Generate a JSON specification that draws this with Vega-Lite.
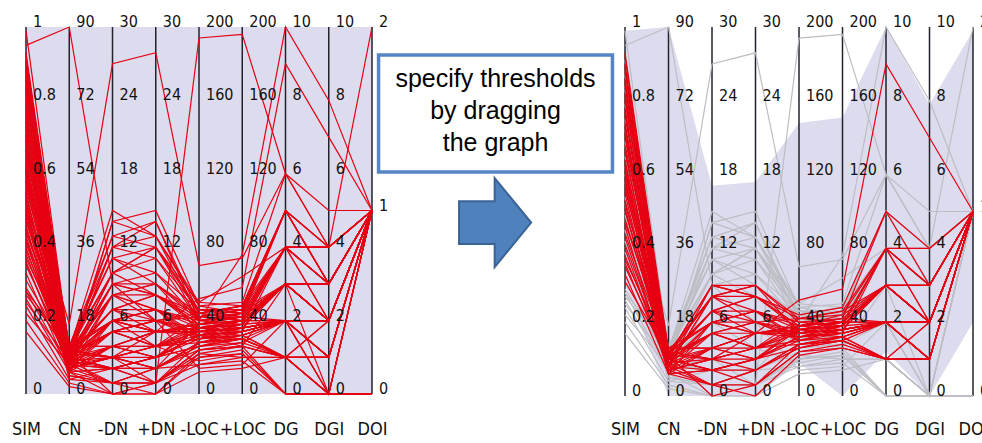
{
"$schema":"https://vega.github.io/schema/vega-lite/v6.json",
"background":"white",
"padding":{"left":11,"top":14,"right":0,"bottom":0},
"config":{"view":{"stroke":null}},
"bounds":"flush",
"spacing":20,
"datasets":{
"full":[{"axis":"SIM","lo":0,"hi":1},{"axis":"CN","lo":0,"hi":1},{"axis":"-DN","lo":0,"hi":1},{"axis":"+DN","lo":0,"hi":1},{"axis":"-LOC","lo":0,"hi":1},{"axis":"+LOC","lo":0,"hi":1},{"axis":"DG","lo":0,"hi":1},{"axis":"DGI","lo":0,"hi":1},{"axis":"DOI","lo":0,"hi":1}],
"thr":[{"axis":"SIM","lo":0.3,"hi":0.99},{"axis":"CN","lo":0,"hi":1},{"axis":"-DN","lo":0,"hi":0.57},{"axis":"+DN","lo":0,"hi":0.58},{"axis":"-LOC","lo":0.09,"hi":0.74},{"axis":"+LOC","lo":0,"hi":0.755},{"axis":"DG","lo":0.12,"hi":1},{"axis":"DGI","lo":0,"hi":0.79},{"axis":"DOI","lo":0.2,"hi":0.99}],
"axes":[{"axis":"SIM"},{"axis":"CN"},{"axis":"-DN"},{"axis":"+DN"},{"axis":"-LOC"},{"axis":"+LOC"},{"axis":"DG"},{"axis":"DGI"},{"axis":"DOI"}],
"ticks":[
{"axis":"SIM","v":0,"t":"0"},{"axis":"SIM","v":0.2,"t":"0.2"},{"axis":"SIM","v":0.4,"t":"0.4"},{"axis":"SIM","v":0.6,"t":"0.6"},{"axis":"SIM","v":0.8,"t":"0.8"},{"axis":"SIM","v":1,"t":"1"},
{"axis":"CN","v":0,"t":"0"},{"axis":"CN","v":0.2,"t":"18"},{"axis":"CN","v":0.4,"t":"36"},{"axis":"CN","v":0.6,"t":"54"},{"axis":"CN","v":0.8,"t":"72"},{"axis":"CN","v":1,"t":"90"},
{"axis":"-DN","v":0,"t":"0"},{"axis":"-DN","v":0.2,"t":"6"},{"axis":"-DN","v":0.4,"t":"12"},{"axis":"-DN","v":0.6,"t":"18"},{"axis":"-DN","v":0.8,"t":"24"},{"axis":"-DN","v":1,"t":"30"},
{"axis":"+DN","v":0,"t":"0"},{"axis":"+DN","v":0.2,"t":"6"},{"axis":"+DN","v":0.4,"t":"12"},{"axis":"+DN","v":0.6,"t":"18"},{"axis":"+DN","v":0.8,"t":"24"},{"axis":"+DN","v":1,"t":"30"},
{"axis":"-LOC","v":0,"t":"0"},{"axis":"-LOC","v":0.2,"t":"40"},{"axis":"-LOC","v":0.4,"t":"80"},{"axis":"-LOC","v":0.6,"t":"120"},{"axis":"-LOC","v":0.8,"t":"160"},{"axis":"-LOC","v":1,"t":"200"},
{"axis":"+LOC","v":0,"t":"0"},{"axis":"+LOC","v":0.2,"t":"40"},{"axis":"+LOC","v":0.4,"t":"80"},{"axis":"+LOC","v":0.6,"t":"120"},{"axis":"+LOC","v":0.8,"t":"160"},{"axis":"+LOC","v":1,"t":"200"},
{"axis":"DG","v":0,"t":"0"},{"axis":"DG","v":0.2,"t":"2"},{"axis":"DG","v":0.4,"t":"4"},{"axis":"DG","v":0.6,"t":"6"},{"axis":"DG","v":0.8,"t":"8"},{"axis":"DG","v":1,"t":"10"},
{"axis":"DGI","v":0,"t":"0"},{"axis":"DGI","v":0.2,"t":"2"},{"axis":"DGI","v":0.4,"t":"4"},{"axis":"DGI","v":0.6,"t":"6"},{"axis":"DGI","v":0.8,"t":"8"},{"axis":"DGI","v":1,"t":"10"},
{"axis":"DOI","v":0,"t":"0"},{"axis":"DOI","v":0.5,"t":"1"},{"axis":"DOI","v":1,"t":"2"}],
"lines":[
{"id":1,"SIM":0.93,"CN":0.12,"-DN":0.20,"+DN":0.23,"-LOC":0.18,"+LOC":0.20,"DG":0.3,"DGI":0.2,"DOI":0.5,"s":1},
{"id":2,"SIM":0.92,"CN":0.10,"-DN":0.07,"+DN":0.10,"-LOC":0.16,"+LOC":0.18,"DG":0.2,"DGI":0.2,"DOI":0.5,"s":1},
{"id":3,"SIM":0.91,"CN":0.13,"-DN":0.40,"+DN":0.43,"-LOC":0.21,"+LOC":0.23,"DG":0.5,"DGI":0.3,"DOI":0.5,"s":0},
{"id":4,"SIM":0.90,"CN":0.09,"-DN":0.13,"+DN":0.17,"-LOC":0.19,"+LOC":0.21,"DG":0.2,"DGI":0.1,"DOI":0.5,"s":1},
{"id":5,"SIM":0.89,"CN":0.11,"-DN":0.27,"+DN":0.30,"-LOC":0.17,"+LOC":0.19,"DG":0.4,"DGI":0.3,"DOI":0.5,"s":1},
{"id":6,"SIM":0.88,"CN":0.08,"-DN":0.03,"+DN":0.07,"-LOC":0.14,"+LOC":0.16,"DG":0.1,"DGI":0.1,"DOI":0.5,"s":1},
{"id":7,"SIM":0.87,"CN":0.12,"-DN":0.33,"+DN":0.37,"-LOC":0.20,"+LOC":0.22,"DG":0.4,"DGI":0.4,"DOI":0.5,"s":0},
{"id":8,"SIM":0.86,"CN":0.10,"-DN":0.17,"+DN":0.20,"-LOC":0.18,"+LOC":0.17,"DG":0.2,"DGI":0.2,"DOI":0.5,"s":1},
{"id":9,"SIM":0.85,"CN":0.07,"-DN":0.10,"+DN":0.13,"-LOC":0.15,"+LOC":0.18,"DG":0.3,"DGI":0.2,"DOI":0.5,"s":1},
{"id":10,"SIM":0.84,"CN":0.11,"-DN":0.23,"+DN":0.27,"-LOC":0.22,"+LOC":0.24,"DG":0.5,"DGI":0.4,"DOI":0.5,"s":1},
{"id":11,"SIM":0.83,"CN":0.09,"-DN":0.47,"+DN":0.50,"-LOC":0.24,"+LOC":0.25,"DG":0.6,"DGI":0.4,"DOI":0.5,"s":0},
{"id":12,"SIM":0.82,"CN":0.13,"-DN":0.13,"+DN":0.10,"-LOC":0.16,"+LOC":0.19,"DG":0.2,"DGI":0.1,"DOI":0.5,"s":1},
{"id":13,"SIM":0.81,"CN":0.08,"-DN":0.20,"+DN":0.17,"-LOC":0.19,"+LOC":0.20,"DG":0.3,"DGI":0.3,"DOI":0.5,"s":1},
{"id":14,"SIM":0.80,"CN":0.10,"-DN":0.07,"+DN":0.07,"-LOC":0.13,"+LOC":0.15,"DG":0.1,"DGI":0.2,"DOI":0.5,"s":1},
{"id":15,"SIM":0.79,"CN":0.12,"-DN":0.37,"+DN":0.33,"-LOC":0.23,"+LOC":0.21,"DG":0.4,"DGI":0.3,"DOI":0.5,"s":0},
{"id":16,"SIM":0.78,"CN":0.06,"-DN":0.13,"+DN":0.17,"-LOC":0.17,"+LOC":0.18,"DG":0.2,"DGI":0.2,"DOI":0.5,"s":1},
{"id":17,"SIM":0.77,"CN":0.11,"-DN":0.27,"+DN":0.23,"-LOC":0.20,"+LOC":0.19,"DG":0.3,"DGI":0.2,"DOI":0.5,"s":1},
{"id":18,"SIM":0.76,"CN":0.09,"-DN":0.03,"+DN":0.03,"-LOC":0.12,"+LOC":0.14,"DG":0.1,"DGI":0.1,"DOI":0.5,"s":1},
{"id":19,"SIM":0.75,"CN":0.13,"-DN":0.43,"+DN":0.47,"-LOC":0.22,"+LOC":0.24,"DG":0.5,"DGI":0.3,"DOI":0.5,"s":0},
{"id":20,"SIM":0.74,"CN":0.07,"-DN":0.17,"+DN":0.13,"-LOC":0.18,"+LOC":0.20,"DG":0.2,"DGI":0.2,"DOI":0.5,"s":1},
{"id":21,"SIM":0.73,"CN":0.10,"-DN":0.23,"+DN":0.20,"-LOC":0.16,"+LOC":0.17,"DG":0.4,"DGI":0.3,"DOI":0.5,"s":1},
{"id":22,"SIM":0.72,"CN":0.12,"-DN":0.10,"+DN":0.13,"-LOC":0.21,"+LOC":0.23,"DG":0.3,"DGI":0.2,"DOI":0.5,"s":1},
{"id":23,"SIM":0.71,"CN":0.08,"-DN":0.30,"+DN":0.27,"-LOC":0.19,"+LOC":0.22,"DG":0.4,"DGI":0.4,"DOI":0.5,"s":1},
{"id":24,"SIM":0.70,"CN":0.11,"-DN":0.00,"+DN":0.03,"-LOC":0.14,"+LOC":0.15,"DG":0.1,"DGI":0.1,"DOI":0.5,"s":1},
{"id":25,"SIM":0.69,"CN":0.09,"-DN":0.33,"+DN":0.40,"-LOC":0.20,"+LOC":0.21,"DG":0.3,"DGI":0.3,"DOI":0.5,"s":0},
{"id":26,"SIM":0.68,"CN":0.13,"-DN":0.13,"+DN":0.13,"-LOC":0.17,"+LOC":0.16,"DG":0.2,"DGI":0.2,"DOI":0.5,"s":1},
{"id":27,"SIM":0.67,"CN":0.06,"-DN":0.20,"+DN":0.23,"-LOC":0.15,"+LOC":0.18,"DG":0.3,"DGI":0.2,"DOI":0.5,"s":1},
{"id":28,"SIM":0.66,"CN":0.10,"-DN":0.07,"+DN":0.10,"-LOC":0.19,"+LOC":0.20,"DG":0.2,"DGI":0.1,"DOI":0.5,"s":1},
{"id":29,"SIM":0.65,"CN":0.12,"-DN":0.50,"+DN":0.43,"-LOC":0.25,"+LOC":0.24,"DG":0.5,"DGI":0.4,"DOI":0.5,"s":0},
{"id":30,"SIM":0.64,"CN":0.08,"-DN":0.27,"+DN":0.27,"-LOC":0.18,"+LOC":0.19,"DG":0.4,"DGI":0.3,"DOI":0.5,"s":1},
{"id":31,"SIM":0.63,"CN":0.11,"-DN":0.17,"+DN":0.20,"-LOC":0.21,"+LOC":0.22,"DG":0.3,"DGI":0.2,"DOI":0.5,"s":1},
{"id":32,"SIM":0.62,"CN":0.07,"-DN":0.03,"+DN":0.07,"-LOC":0.13,"+LOC":0.16,"DG":0.1,"DGI":0.2,"DOI":0.5,"s":1},
{"id":33,"SIM":0.61,"CN":0.10,"-DN":0.23,"+DN":0.17,"-LOC":0.17,"+LOC":0.18,"DG":0.2,"DGI":0.2,"DOI":0.5,"s":1},
{"id":34,"SIM":0.60,"CN":0.13,"-DN":0.37,"+DN":0.40,"-LOC":0.22,"+LOC":0.20,"DG":0.4,"DGI":0.3,"DOI":0.5,"s":0},
{"id":35,"SIM":0.59,"CN":0.09,"-DN":0.10,"+DN":0.10,"-LOC":0.16,"+LOC":0.17,"DG":0.2,"DGI":0.1,"DOI":0.5,"s":1},
{"id":36,"SIM":0.58,"CN":0.11,"-DN":0.30,"+DN":0.30,"-LOC":0.20,"+LOC":0.21,"DG":0.5,"DGI":0.3,"DOI":0.5,"s":1},
{"id":37,"SIM":0.57,"CN":0.08,"-DN":0.13,"+DN":0.17,"-LOC":0.18,"+LOC":0.19,"DG":0.3,"DGI":0.2,"DOI":0.5,"s":1},
{"id":38,"SIM":0.56,"CN":0.12,"-DN":0.20,"+DN":0.20,"-LOC":0.15,"+LOC":0.17,"DG":0.2,"DGI":0.2,"DOI":0.5,"s":1},
{"id":39,"SIM":0.55,"CN":0.06,"-DN":0.07,"+DN":0.03,"-LOC":0.12,"+LOC":0.13,"DG":0.1,"DGI":0.1,"DOI":0.5,"s":1},
{"id":40,"SIM":0.54,"CN":0.10,"-DN":0.40,"+DN":0.37,"-LOC":0.23,"+LOC":0.22,"DG":0.5,"DGI":0.4,"DOI":0.5,"s":0},
{"id":41,"SIM":0.53,"CN":0.09,"-DN":0.17,"+DN":0.13,"-LOC":0.19,"+LOC":0.18,"DG":0.2,"DGI":0.2,"DOI":0.5,"s":1},
{"id":42,"SIM":0.52,"CN":0.12,"-DN":0.27,"+DN":0.20,"-LOC":0.17,"+LOC":0.20,"DG":0.3,"DGI":0.3,"DOI":0.5,"s":1},
{"id":43,"SIM":0.51,"CN":0.07,"-DN":0.10,"+DN":0.13,"-LOC":0.14,"+LOC":0.16,"DG":0.2,"DGI":0.1,"DOI":0.5,"s":1},
{"id":44,"SIM":0.50,"CN":0.11,"-DN":0.23,"+DN":0.27,"-LOC":0.21,"+LOC":0.23,"DG":0.4,"DGI":0.2,"DOI":0.5,"s":1},
{"id":45,"SIM":0.49,"CN":0.08,"-DN":0.47,"+DN":0.43,"-LOC":0.24,"+LOC":0.22,"DG":0.5,"DGI":0.3,"DOI":0.5,"s":0},
{"id":46,"SIM":0.48,"CN":0.10,"-DN":0.13,"+DN":0.10,"-LOC":0.18,"+LOC":0.17,"DG":0.2,"DGI":0.2,"DOI":0.5,"s":1},
{"id":47,"SIM":0.47,"CN":0.13,"-DN":0.20,"+DN":0.23,"-LOC":0.16,"+LOC":0.19,"DG":0.3,"DGI":0.2,"DOI":0.5,"s":1},
{"id":48,"SIM":0.46,"CN":0.06,"-DN":0.03,"+DN":0.00,"-LOC":0.11,"+LOC":0.13,"DG":0.1,"DGI":0.1,"DOI":0.5,"s":1},
{"id":49,"SIM":0.45,"CN":0.09,"-DN":0.30,"+DN":0.33,"-LOC":0.20,"+LOC":0.21,"DG":0.4,"DGI":0.3,"DOI":0.5,"s":0},
{"id":50,"SIM":0.44,"CN":0.11,"-DN":0.17,"+DN":0.17,"-LOC":0.17,"+LOC":0.18,"DG":0.2,"DGI":0.2,"DOI":0.5,"s":1},
{"id":51,"SIM":0.43,"CN":0.08,"-DN":0.07,"+DN":0.10,"-LOC":0.15,"+LOC":0.16,"DG":0.2,"DGI":0.1,"DOI":0.5,"s":1},
{"id":52,"SIM":0.42,"CN":0.12,"-DN":0.37,"+DN":0.30,"-LOC":0.22,"+LOC":0.24,"DG":0.4,"DGI":0.4,"DOI":0.5,"s":0},
{"id":53,"SIM":0.41,"CN":0.10,"-DN":0.23,"+DN":0.23,"-LOC":0.19,"+LOC":0.20,"DG":0.3,"DGI":0.2,"DOI":0.5,"s":1},
{"id":54,"SIM":0.40,"CN":0.07,"-DN":0.13,"+DN":0.17,"-LOC":0.16,"+LOC":0.17,"DG":0.2,"DGI":0.2,"DOI":0.5,"s":1},
{"id":55,"SIM":0.39,"CN":0.11,"-DN":0.43,"+DN":0.40,"-LOC":0.23,"+LOC":0.23,"DG":0.5,"DGI":0.3,"DOI":0.5,"s":0},
{"id":56,"SIM":0.38,"CN":0.09,"-DN":0.20,"+DN":0.17,"-LOC":0.18,"+LOC":0.19,"DG":0.3,"DGI":0.3,"DOI":0.5,"s":1},
{"id":57,"SIM":0.37,"CN":0.12,"-DN":0.10,"+DN":0.07,"-LOC":0.14,"+LOC":0.15,"DG":0.1,"DGI":0.1,"DOI":0.5,"s":1},
{"id":58,"SIM":0.36,"CN":0.08,"-DN":0.27,"+DN":0.30,"-LOC":0.21,"+LOC":0.20,"DG":0.4,"DGI":0.2,"DOI":0.5,"s":1},
{"id":59,"SIM":0.35,"CN":0.10,"-DN":0.17,"+DN":0.13,"-LOC":0.17,"+LOC":0.18,"DG":0.2,"DGI":0.2,"DOI":0.5,"s":1},
{"id":60,"SIM":0.33,"CN":0.06,"-DN":0.07,"+DN":0.10,"-LOC":0.13,"+LOC":0.15,"DG":0.2,"DGI":0.1,"DOI":0.5,"s":1},
{"id":61,"SIM":0.31,"CN":0.11,"-DN":0.30,"+DN":0.27,"-LOC":0.19,"+LOC":0.21,"DG":0.3,"DGI":0.3,"DOI":0.5,"s":1},
{"id":62,"SIM":0.60,"CN":0.11,"-DN":0.10,"+DN":0.17,"-LOC":0.26,"+LOC":0.29,"DG":0.9,"DGI":0.7,"DOI":0.5,"s":1},
{"id":63,"SIM":0.95,"CN":1.00,"-DN":0.30,"+DN":0.20,"-LOC":0.22,"+LOC":0.21,"DG":0.3,"DGI":0.2,"DOI":0.5,"s":0},
{"id":64,"SIM":0.60,"CN":0.19,"-DN":0.90,"+DN":0.93,"-LOC":0.35,"+LOC":0.37,"DG":0.6,"DGI":0.4,"DOI":0.5,"s":0},
{"id":65,"SIM":0.50,"CN":0.08,"-DN":0.10,"+DN":0.03,"-LOC":0.97,"+LOC":0.98,"DG":0.6,"DGI":0.5,"DOI":0.5,"s":0},
{"id":66,"SIM":0.72,"CN":0.10,"-DN":0.40,"+DN":0.47,"-LOC":0.20,"+LOC":0.38,"DG":1.0,"DGI":0.8,"DOI":0.5,"s":0},
{"id":67,"SIM":0.45,"CN":0.09,"-DN":0.33,"+DN":0.40,"-LOC":0.25,"+LOC":0.32,"DG":0.4,"DGI":0.4,"DOI":1.0,"s":0},
{"id":68,"SIM":0.99,"CN":0.12,"-DN":0.20,"+DN":0.17,"-LOC":0.18,"+LOC":0.20,"DG":0.3,"DGI":0.2,"DOI":0.5,"s":0},
{"id":69,"SIM":0.29,"CN":0.10,"-DN":0.20,"+DN":0.17,"-LOC":0.17,"+LOC":0.18,"DG":0.2,"DGI":0.2,"DOI":0.5,"s":0},
{"id":70,"SIM":0.28,"CN":0.07,"-DN":0.13,"+DN":0.13,"-LOC":0.15,"+LOC":0.16,"DG":0.2,"DGI":0.1,"DOI":0.5,"s":0},
{"id":71,"SIM":0.27,"CN":0.12,"-DN":0.10,"+DN":0.07,"-LOC":0.19,"+LOC":0.20,"DG":0.3,"DGI":0.2,"DOI":0.5,"s":0},
{"id":72,"SIM":0.26,"CN":0.06,"-DN":0.27,"+DN":0.23,"-LOC":0.14,"+LOC":0.17,"DG":0.2,"DGI":0.0,"DOI":0.0,"s":0},
{"id":73,"SIM":0.25,"CN":0.09,"-DN":0.07,"+DN":0.10,"-LOC":0.16,"+LOC":0.15,"DG":0.1,"DGI":0.0,"DOI":0.0,"s":0},
{"id":74,"SIM":0.24,"CN":0.04,"-DN":0.03,"+DN":0.03,"-LOC":0.12,"+LOC":0.13,"DG":0.0,"DGI":0.0,"DOI":0.0,"s":0},
{"id":75,"SIM":0.22,"CN":0.08,"-DN":0.17,"+DN":0.20,"-LOC":0.18,"+LOC":0.19,"DG":0.2,"DGI":0.2,"DOI":0.5,"s":0},
{"id":76,"SIM":0.20,"CN":0.03,"-DN":0.00,"+DN":0.00,"-LOC":0.10,"+LOC":0.11,"DG":0.0,"DGI":0.0,"DOI":0.0,"s":0},
{"id":77,"SIM":0.17,"CN":0.02,"-DN":0.00,"+DN":0.03,"-LOC":0.08,"+LOC":0.10,"DG":0.1,"DGI":0.0,"DOI":0.0,"s":0},
{"id":78,"SIM":0.28,"CN":0.13,"-DN":0.33,"+DN":0.27,"-LOC":0.20,"+LOC":0.22,"DG":0.3,"DGI":0.3,"DOI":0.5,"s":0},
{"id":79,"SIM":0.88,"CN":0.07,"-DN":0.10,"+DN":0.07,"-LOC":0.14,"+LOC":0.15,"DG":0.1,"DGI":0.0,"DOI":0.5,"s":0},
{"id":80,"SIM":0.74,"CN":0.05,"-DN":0.03,"+DN":0.03,"-LOC":0.10,"+LOC":0.12,"DG":0.0,"DGI":0.0,"DOI":0.0,"s":0},
{"id":81,"SIM":0.62,"CN":0.09,"-DN":0.13,"+DN":0.10,"-LOC":0.13,"+LOC":0.14,"DG":0.2,"DGI":0.0,"DOI":0.5,"s":0},
{"id":82,"SIM":0.52,"CN":0.04,"-DN":0.07,"+DN":0.07,"-LOC":0.08,"+LOC":0.09,"DG":0.0,"DGI":0.0,"DOI":0.5,"s":0},
{"id":83,"SIM":0.42,"CN":0.06,"-DN":0.00,"+DN":0.00,"-LOC":0.06,"+LOC":0.07,"DG":0.1,"DGI":0.0,"DOI":0.0,"s":0},
{"id":84,"SIM":0.84,"CN":0.10,"-DN":0.20,"+DN":0.13,"-LOC":0.16,"+LOC":0.13,"DG":0.3,"DGI":0.0,"DOI":0.5,"s":0},
{"id":85,"SIM":0.68,"CN":0.08,"-DN":0.07,"+DN":0.03,"-LOC":0.11,"+LOC":0.10,"DG":0.1,"DGI":0.0,"DOI":0.0,"s":0},
{"id":86,"SIM":0.58,"CN":0.11,"-DN":0.17,"+DN":0.20,"-LOC":0.07,"+LOC":0.08,"DG":0.2,"DGI":0.0,"DOI":0.5,"s":0},
{"id":87,"SIM":0.36,"CN":0.07,"-DN":0.10,"+DN":0.13,"-LOC":0.09,"+LOC":0.11,"DG":0.0,"DGI":0.0,"DOI":0.0,"s":0},
{"id":88,"SIM":0.48,"CN":0.05,"-DN":0.03,"+DN":0.07,"-LOC":0.12,"+LOC":0.13,"DG":0.1,"DGI":0.0,"DOI":0.5,"s":0}
]
},
"hconcat":[
{
"width":346,"height":367,
"encoding":{"x":{"field":"axis","type":"nominal","sort":["SIM","CN","-DN","+DN","-LOC","+LOC","DG","DGI","DOI"],"scale":{"type":"point","padding":0},"axis":{"title":null,"domain":false,"ticks":false,"grid":false,"labelAngle":0,"labelOverlap":false,"labelPadding":26,"labelBaseline":"top","labelFontSize":18,"labelFont":"Liberation Sans Narrow, DejaVu Sans Condensed, Liberation Sans, sans-serif","labelColor":"#111111"}}},
"layer":[
{"data":{"name":"full"},"mark":{"type":"area","color":"#dcdcee","opacity":1},"encoding":{"y":{"field":"hi","type":"quantitative","scale":{"domain":[0,1],"nice":false,"zero":false},"axis":null},"y2":{"field":"lo"}}},
{"data":{"name":"axes"},"mark":{"type":"rule","color":"#22222c","strokeWidth":1.5},"encoding":{"y":{"datum":0,"type":"quantitative","scale":{"domain":[0,1],"nice":false,"zero":false},"axis":null},"y2":{"datum":1}}},
{"data":{"name":"lines"},"transform":[{"fold":["SIM","CN","-DN","+DN","-LOC","+LOC","DG","DGI","DOI"],"as":["axis","v"]}],"mark":{"type":"line","color":"#e60012","strokeWidth":1.2},"encoding":{"y":{"field":"v","type":"quantitative","scale":{"domain":[0,1],"nice":false,"zero":false},"axis":null},"detail":{"field":"id","type":"nominal"}}},
{"data":{"name":"ticks"},"mark":{"type":"text","align":"left","baseline":"alphabetic","dx":7,"fontSize":16,"font":"Liberation Sans Narrow, DejaVu Sans Condensed, Liberation Sans, sans-serif","color":"#111111"},"encoding":{"y":{"field":"v","type":"quantitative","scale":{"domain":[0,1],"nice":false,"zero":false},"axis":null},"text":{"field":"t"}}}
]
},
{
"width":213,"height":367,
"layer":[
{"data":{"values":[{"label":"box"}]},"mark":{"type":"rect","fill":"white","stroke":"#5585c5","strokeWidth":3.5},"encoding":{"x":{"datum":-0.063,"type":"quantitative","scale":{"domain":[0,1],"nice":false,"zero":false},"axis":null},"x2":{"datum":1.035},"y":{"datum":0.924,"type":"quantitative","scale":{"domain":[0,1],"nice":false,"zero":false},"axis":null},"y2":{"datum":0.605}}},
{"data":{"values":[{"label":["specify thresholds","by dragging","the graph"]}]},"mark":{"type":"text","align":"center","baseline":"alphabetic","fontSize":25,"lineHeight":32,"font":"Liberation Sans, sans-serif","color":"#000000"},"encoding":{"x":{"datum":0.486,"type":"quantitative","scale":{"domain":[0,1],"nice":false,"zero":false},"axis":null},"y":{"datum":0.837,"type":"quantitative","scale":{"domain":[0,1],"nice":false,"zero":false},"axis":null},"text":{"field":"label"}}},
{"data":{"values":[{"label":"arrow"}]},"mark":{"type":"point","shape":"M -0.81 -0.48 L -0.01 -0.48 L -0.01 -1 L 0.81 0 L -0.01 1 L -0.01 0.48 L -0.81 0.48 Z","size":7921,"filled":true,"fill":"#4f81bd","stroke":"#3b6496","strokeWidth":2,"opacity":1},"encoding":{"x":{"datum":0.484,"type":"quantitative","scale":{"domain":[0,1],"nice":false,"zero":false},"axis":null},"y":{"datum":0.467,"type":"quantitative","scale":{"domain":[0,1],"nice":false,"zero":false},"axis":null}}}
]
},
{
"width":348,"height":369,
"encoding":{"x":{"field":"axis","type":"nominal","sort":["SIM","CN","-DN","+DN","-LOC","+LOC","DG","DGI","DOI"],"scale":{"type":"point","padding":0},"axis":{"title":null,"domain":false,"ticks":false,"grid":false,"labelAngle":0,"labelOverlap":false,"labelPadding":24,"labelBaseline":"top","labelFontSize":18,"labelFont":"Liberation Sans Narrow, DejaVu Sans Condensed, Liberation Sans, sans-serif","labelColor":"#111111"}}},
"layer":[
{"data":{"name":"thr"},"mark":{"type":"area","color":"#dcdcee","opacity":1},"encoding":{"y":{"field":"hi","type":"quantitative","scale":{"domain":[0,1],"nice":false,"zero":false},"axis":null},"y2":{"field":"lo"}}},
{"data":{"name":"axes"},"mark":{"type":"rule","color":"#22222c","strokeWidth":1.5},"encoding":{"y":{"datum":0,"type":"quantitative","scale":{"domain":[0,1],"nice":false,"zero":false},"axis":null},"y2":{"datum":1}}},
{"data":{"name":"lines"},"transform":[{"filter":{"field":"s","equal":0}},{"fold":["SIM","CN","-DN","+DN","-LOC","+LOC","DG","DGI","DOI"],"as":["axis","v"]}],"mark":{"type":"line","color":"#bdbdc4","strokeWidth":1.2},"encoding":{"y":{"field":"v","type":"quantitative","scale":{"domain":[0,1],"nice":false,"zero":false},"axis":null},"detail":{"field":"id","type":"nominal"}}},
{"data":{"name":"lines"},"transform":[{"filter":{"field":"s","equal":1}},{"fold":["SIM","CN","-DN","+DN","-LOC","+LOC","DG","DGI","DOI"],"as":["axis","v"]}],"mark":{"type":"line","color":"#e60012","strokeWidth":1.2},"encoding":{"y":{"field":"v","type":"quantitative","scale":{"domain":[0,1],"nice":false,"zero":false},"axis":null},"detail":{"field":"id","type":"nominal"}}},
{"data":{"name":"ticks"},"mark":{"type":"text","align":"left","baseline":"alphabetic","dx":7,"fontSize":16,"font":"Liberation Sans Narrow, DejaVu Sans Condensed, Liberation Sans, sans-serif","color":"#111111"},"encoding":{"y":{"field":"v","type":"quantitative","scale":{"domain":[0,1],"nice":false,"zero":false},"axis":null},"text":{"field":"t"}}}
]
}
]
}
